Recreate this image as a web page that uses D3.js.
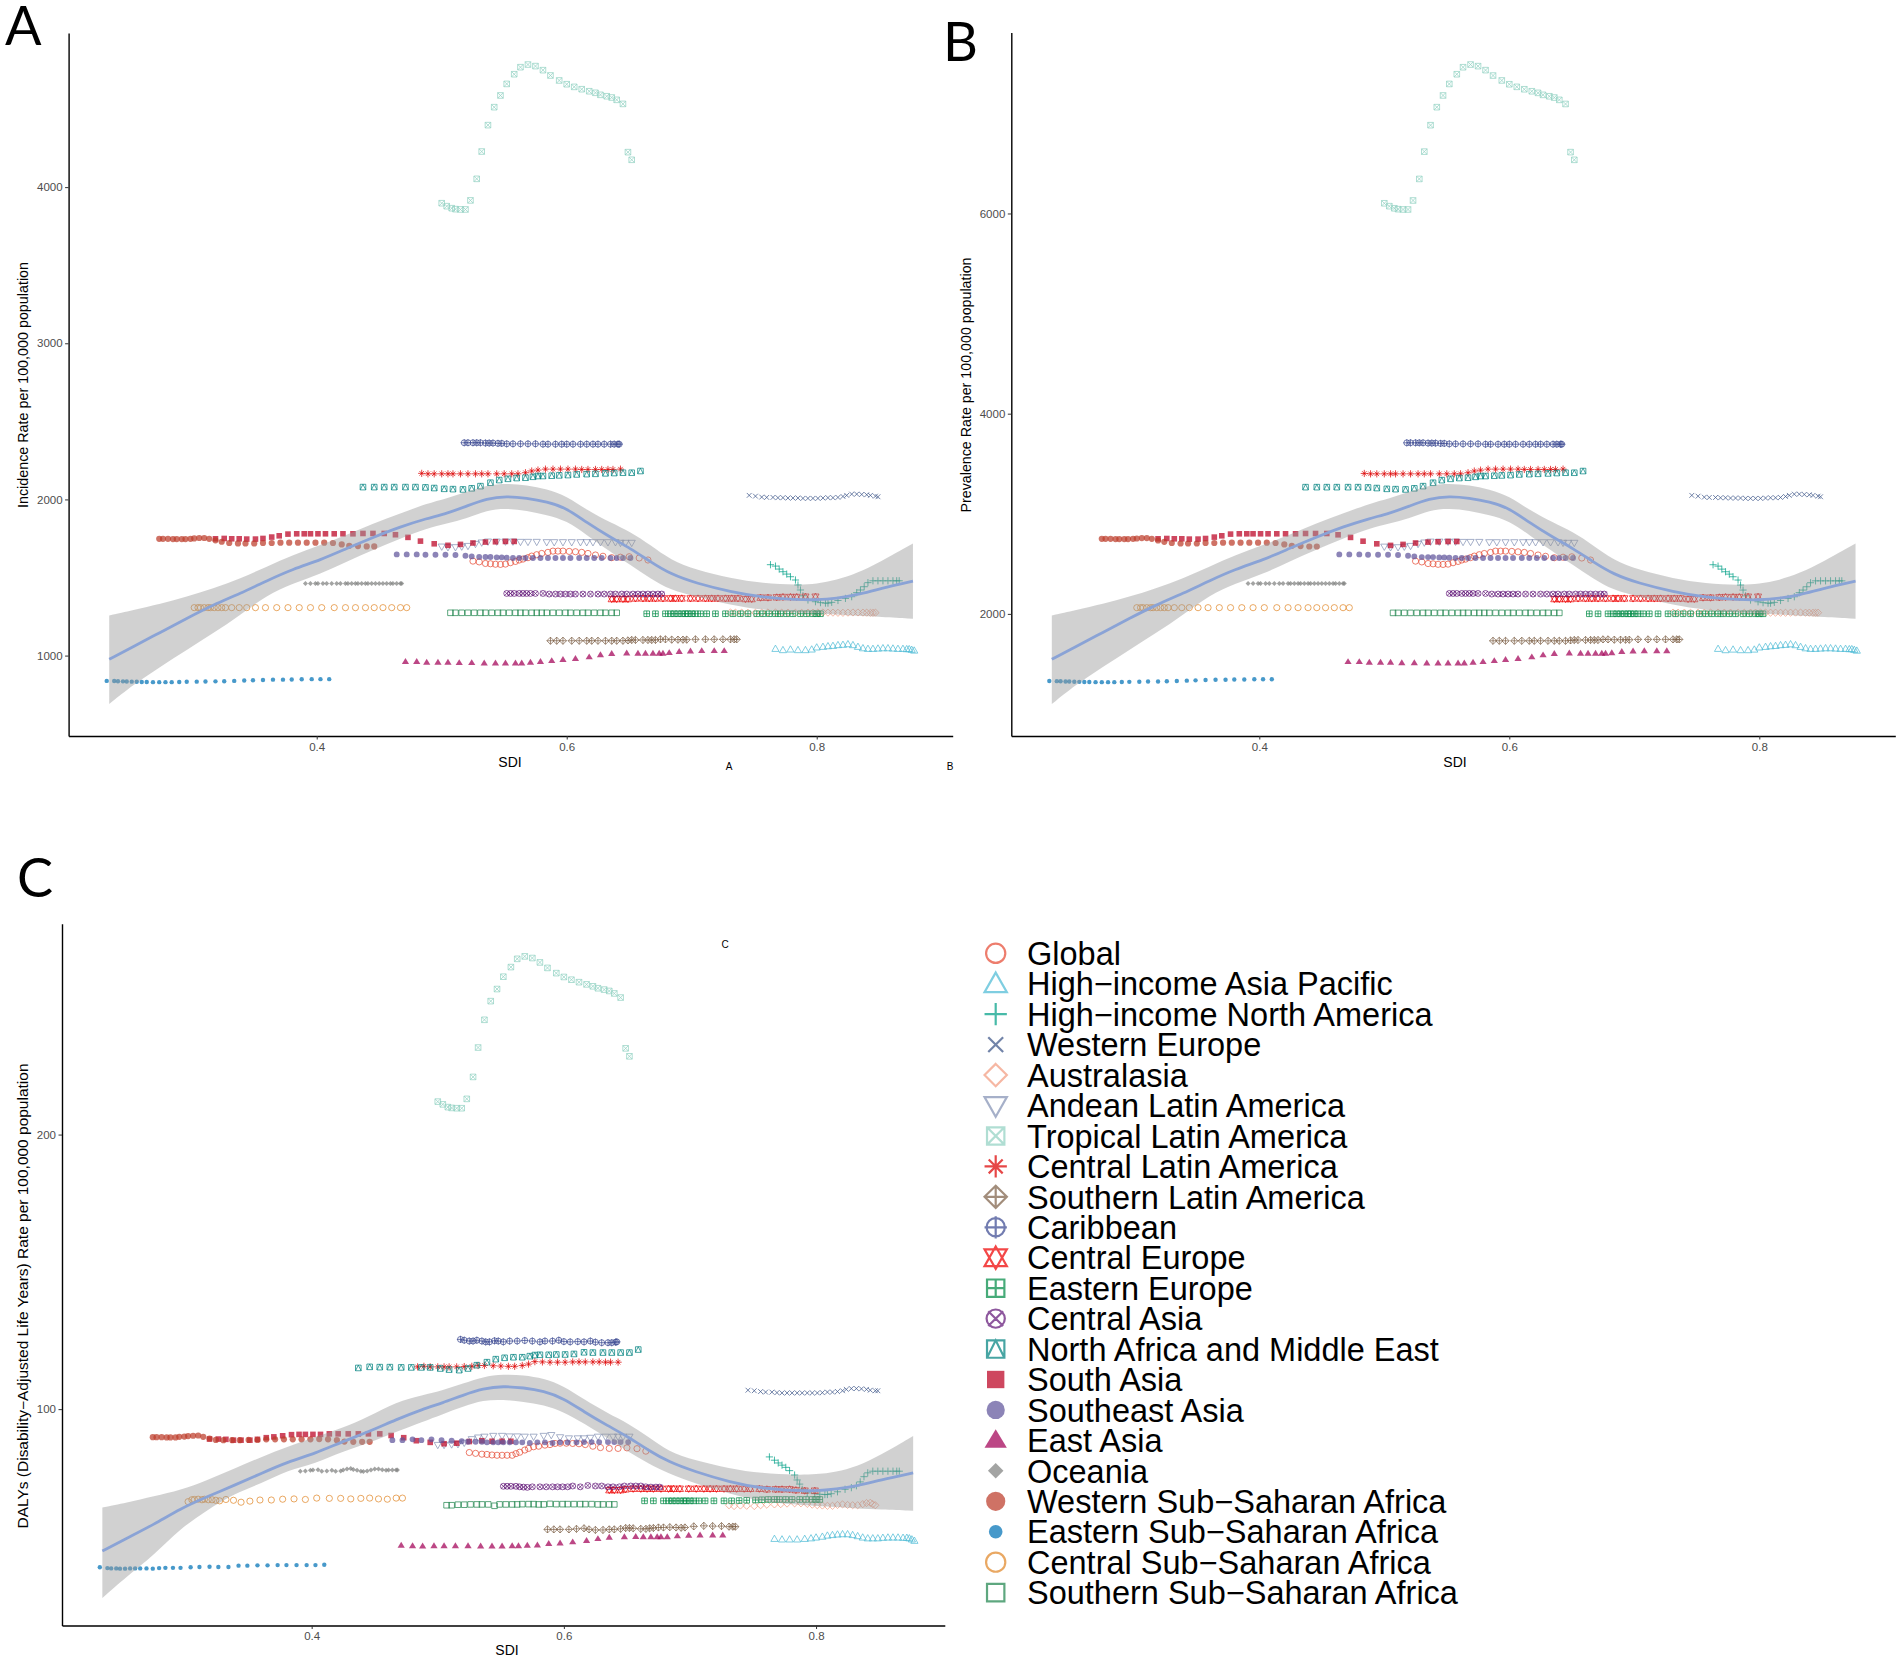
<!DOCTYPE html>
<html><head><meta charset="utf-8">
<script src="https://cdn.jsdelivr.net/npm/d3@7"></script>
<style>html,body{margin:0;padding:0;background:#fff}svg{display:block}text{font-family:"Liberation Sans",Arial,sans-serif}</style>
</head><body><svg id="c" width="1902" height="1665"></svg>
<script>
const regionNames=["Global","High\u2212income Asia Pacific","High\u2212income North America","Western Europe","Australasia","Andean Latin America","Tropical Latin America","Central Latin America","Southern Latin America","Caribbean","Central Europe","Eastern Europe","Central Asia","North Africa and Middle East","South Asia","Southeast Asia","East Asia","Oceania","Western Sub\u2212Saharan Africa","Eastern Sub\u2212Saharan Africa","Central Sub\u2212Saharan Africa","Southern Sub\u2212Saharan Africa"];
const regionColors=["#E64B35","#4DBBD5","#00A087","#3C5488","#F39B7F","#8491B4","#91D1C2","#DC0000","#7E6148","#3B4992","#EE0000","#008B45","#631879","#008280","#BB0021","#5F559B","#A20056","#808180","#BC3C29","#0072B5","#E18727","#20854E"];

const sdiGlobal=[.525,.530,.535,.539,.543,.547,.551,.555,.559,.562,.565,.569,.572,.576,.580,.585,.589,.593,.597,.602,.607,.612,.617,.623,.629,.636,.643,.650,.658,.665];
const incGlobal=[1605,1600,1590,1588,1585,1584,1586,1595,1603,1612,1618,1627,1637,1646,1654,1661,1669,1669,1669,1667,1665,1661,1654,1644,1636,1627,1630,1633,1625,1612];
const prevGlobal=[2527,2519,2503,2500,2495,2494,2497,2511,2524,2538,2547,2562,2577,2591,2603,2614,2627,2627,2627,2624,2620,2614,2603,2588,2575,2561,2566,2570,2558,2538];
const dalyGlobal=[84.2,83.9,83.6,83.5,83.3,83.2,83.2,83.2,83.2,83.8,84.3,85.1,85.7,86.3,86.5,86.9,87.1,87.5,87.6,87.6,87.5,87.4,87.1,86.5,86.0,85.7,85.7,85.9,85.6,84.7];

const sdiHIAP=[.767,.773,.779,.785,.791,.796,.800,.805,.809,.813,.817,.821,.825,.829,.833,.837,.841,.845,.849,.853,.857,.861,.865,.869,.872,.874,.876,.878];
const incHIAP=[1044,1036,1040,1036,1036,1040,1053,1057,1061,1063,1068,1070,1074,1068,1057,1048,1044,1044,1046,1048,1048,1046,1044,1044,1042,1042,1038,1033];
const prevHIAP=[1652,1639,1645,1639,1639,1645,1666,1672,1678,1681,1689,1692,1698,1689,1672,1658,1652,1652,1655,1658,1658,1655,1652,1652,1649,1649,1642,1634];
const dalyHIAP=[52.8,52.6,52.6,52.6,52.8,53.0,53.3,53.6,54.0,54.2,54.4,54.5,54.5,54.2,53.8,53.3,53.0,53.0,53.0,53.2,53.3,53.3,53.3,53.2,53.2,53.0,52.6,52.1];

const sdiHINA=[.763,.767,.770,.773,.776,.779,.783,.785,.787,.789,.793,.799,.803,.807,.809,.812,.817,.823,.828,.832,.835,.838,.841,.845,.849,.853,.857,.861,.864,.866];
const incHINA=[1582,1573,1554,1537,1522,1505,1484,1452,1420,1383,1356,1345,1339,1336,1336,1341,1353,1366,1377,1403,1420,1441,1467,1479,1479,1479,1479,1479,1479,1479];
const prevHINA=[2491,2477,2447,2421,2397,2371,2338,2288,2238,2180,2138,2121,2112,2107,2107,2115,2134,2154,2171,2212,2238,2271,2311,2330,2330,2330,2330,2330,2330,2330];
const dalyHINA=[82.6,81.4,80.4,79.6,78.8,77.6,76.0,74.2,72.7,70.8,69.5,69.2,69.0,68.9,68.9,69.2,69.9,70.8,71.4,72.1,73.5,75.4,76.8,77.4,77.4,77.4,77.4,77.4,77.4,77.4];

const sdiWEur=[.746,.751,.756,.760,.765,.769,.773,.777,.781,.785,.789,.793,.797,.801,.805,.809,.813,.817,.821,.824,.828,.832,.836,.840,.843,.847,.849];
const incWEur=[2026,2021,2015,2013,2013,2011,2011,2009,2009,2009,2007,2007,2007,2007,2009,2011,2011,2013,2019,2026,2034,2034,2032,2030,2026,2021,2017];
const prevWEur=[3184,3176,3166,3163,3163,3160,3160,3157,3157,3157,3154,3154,3154,3154,3157,3160,3160,3163,3173,3184,3196,3196,3193,3190,3184,3176,3170];
const dalyWEur=[106.9,106.7,106.4,106.2,106.2,106.0,105.9,105.9,105.9,105.9,105.9,105.9,105.9,105.9,106.0,106.2,106.2,106.4,106.7,107.2,107.5,107.5,107.4,107.2,106.9,106.7,106.7];

const sdiAustral=[.731,.735,.740,.745,.751,.756,.761,.767,.772,.777,.783,.788,.793,.797,.801,.805,.809,.813,.817,.821,.825,.829,.833,.837,.840,.843,.845,.847];
const incAustral=[1276,1275,1275,1274,1274,1275,1276,1276,1275,1275,1274,1274,1275,1275,1276,1276,1275,1275,1274,1274,1275,1276,1276,1275,1275,1274,1274,1275];
const prevAustral=[2013,2012,2012,2011,2011,2012,2013,2013,2012,2012,2011,2011,2012,2012,2013,2013,2012,2012,2011,2011,2012,2013,2013,2012,2012,2011,2011,2012];
const dalyAustral=[65.0,64.7,64.9,64.8,64.7,65.0,65.2,65.3,65.4,65.6,65.7,65.7,65.5,65.2,65.0,64.9,64.8,64.8,65.1,65.3,65.1,65.0,65.0,65.4,65.8,65.9,65.4,65.0];

const sdiAndean=[.500,.505,.511,.516,.521,.527,.532,.537,.544,.551,.557,.563,.569,.576,.584,.590,.597,.604,.611,.616,.621,.627,.633,.639,.643,.647,.652];
const incAndean=[1697,1693,1693,1697,1701,1714,1723,1729,1729,1729,1729,1727,1727,1727,1725,1725,1725,1725,1725,1725,1725,1725,1725,1725,1721,1721,1721];
const prevAndean=[2670,2664,2664,2670,2677,2697,2711,2720,2720,2720,2720,2717,2717,2717,2714,2714,2714,2714,2714,2714,2714,2714,2714,2714,2708,2708,2708];
const dalyAndean=[86.9,86.9,87.1,87.2,87.7,89.0,89.6,89.9,90.2,90.2,90.0,90.0,89.9,89.9,90.2,90.5,89.7,89.3,89.3,89.3,89.5,89.9,89.9,89.9,89.9,89.9,89.9];

const sdiTropical=[.500,.504,.508,.511,.515,.519,.523,.528,.532,.537,.542,.547,.552,.558,.563,.569,.575,.581,.587,.594,.600,.606,.612,.618,.623,.627,.632,.636,.640,.645,.649,.652];
const incTropical=[3897,3878,3865,3859,3857,3857,3915,4053,4228,4397,4512,4587,4661,4723,4768,4785,4775,4749,4715,4683,4659,4642,4627,4614,4604,4591,4582,4574,4559,4533,4224,4175];
const prevTropical=[6102,6073,6052,6043,6040,6040,6130,6345,6618,6882,7062,7179,7294,7391,7461,7488,7472,7432,7378,7329,7291,7265,7241,7221,7205,7185,7171,7158,7135,7094,6613,6536];
const dalyTropical=[212,211,210,209.7,209.6,209.6,213,221,231.7,241.8,248.6,253,257.5,261,264,264.9,264.3,262.7,260.7,258.8,257.4,256.4,255.5,254.7,254,253.3,252.8,252.3,251.4,249.9,231.4,228.5];

const sdiCLA=[.484,.489,.494,.500,.505,.509,.515,.521,.527,.532,.537,.544,.550,.556,.561,.567,.572,.577,.583,.589,.595,.601,.607,.612,.617,.623,.628,.633,.637,.643];
const incCLA=[2167,2164,2164,2164,2164,2164,2164,2164,2164,2164,2164,2164,2164,2164,2164,2171,2182,2188,2194,2194,2194,2194,2194,2192,2192,2192,2192,2192,2192,2194];
const prevCLA=[3403,3399,3399,3399,3399,3399,3399,3399,3399,3399,3399,3399,3399,3399,3399,3410,3427,3436,3446,3446,3446,3446,3446,3443,3443,3443,3443,3443,3443,3446];
const dalyCLA=[115.4,115.6,115.4,115.4,115.4,115.4,115.4,115.5,115.6,115.9,115.9,115.8,115.7,115.6,115.6,115.9,116.4,117.3,117.2,117.1,117.1,117.1,117.2,117.2,117.2,117.2,117.2,117.1,117.1,117.1];

const sdiSLA=[.587,.592,.597,.604,.610,.616,.620,.625,.631,.636,.640,.645,.649,.652,.655,.661,.665,.668,.671,.675,.679,.684,.689,.693,.696,.703,.711,.718,.725,.731,.734,.736];
const incSLA=[1095,1095,1095,1095,1095,1095,1095,1095,1095,1095,1095,1095,1097,1100,1100,1100,1100,1100,1100,1104,1104,1102,1102,1102,1102,1104,1104,1104,1104,1104,1104,1104];
const prevSLA=[1731,1731,1731,1731,1731,1731,1731,1731,1731,1731,1731,1731,1735,1739,1739,1739,1739,1739,1739,1745,1745,1742,1742,1742,1742,1745,1745,1745,1745,1745,1745,1745];
const dalySLA=[56.2,56.2,56.2,56.2,56.4,56.6,56.2,56.0,56.0,56.2,56.2,56.4,56.7,56.7,56.6,56.4,56.4,56.6,56.7,56.9,56.9,57.0,56.9,56.8,56.9,57.3,57.5,57.4,57.4,57.2,57.2,57.2];

const sdiCarib=[.518,.521,.525,.528,.531,.535,.538,.541,.545,.548,.552,.557,.563,.569,.575,.581,.585,.591,.596,.600,.605,.611,.616,.621,.625,.630,.635,.638,.641,.642];
const incCarib=[2363,2363,2363,2363,2363,2361,2361,2361,2359,2359,2356,2356,2356,2356,2356,2354,2354,2354,2354,2354,2354,2354,2354,2354,2354,2354,2354,2354,2354,2354];
const prevCarib=[3709,3709,3709,3709,3709,3706,3706,3706,3703,3703,3698,3698,3698,3698,3698,3695,3695,3695,3695,3695,3695,3695,3695,3695,3695,3695,3695,3695,3695,3695];
const dalyCarib=[125.4,125.1,124.8,124.8,125.1,124.8,124.5,124.5,124.9,124.8,124.5,124.8,124.8,125,124.8,124.5,124.8,124.8,125.1,124.6,124.5,124.6,124.5,124.8,124.4,124.2,124.2,124.2,124.4,124.5];

const sdiCEur=[.636,.640,.645,.649,.655,.661,.666,.671,.677,.683,.687,.692,.699,.705,.711,.716,.721,.727,.732,.737,.743,.748,.755,.761,.768,.773,.779,.784,.791,.799];
const incCEur=[1362,1362,1362,1362,1366,1366,1366,1366,1366,1366,1366,1366,1366,1366,1366,1366,1366,1366,1366,1366,1362,1362,1371,1371,1373,1375,1375,1375,1377,1377];
const prevCEur=[2148,2148,2148,2148,2154,2154,2154,2154,2154,2154,2154,2154,2154,2154,2154,2154,2154,2154,2154,2154,2148,2148,2162,2162,2165,2168,2168,2168,2171,2171];
const dalyCEur=[70.5,70.5,70.5,70.8,71,71,71,71,71,71,71,71,71,71,71,71,71,71,71,71,71,71,71,70.8,70.8,70.8,70.8,70.5,70.3,70.3];

const sdiEEur=[.664,.671,.679,.683,.686,.689,.692,.695,.697,.700,.703,.707,.712,.719,.727,.733,.739,.745,.752,.757,.762,.767,.771,.776,.781,.787,.792,.797,.800,.803];
const incEEur=[1268,1268,1268,1268,1268,1268,1268,1268,1268,1268,1268,1268,1268,1268,1268,1268,1268,1268,1268,1268,1268,1268,1268,1268,1268,1268,1268,1268,1268,1268];
const prevEEur=[2001,2001,2001,2001,2001,2001,2001,2001,2001,2001,2001,2001,2001,2001,2001,2001,2001,2001,2001,2001,2001,2001,2001,2001,2001,2001,2001,2001,2001,2001];
const dalyEEur=[66.6,66.6,66.6,66.6,66.6,66.6,66.6,66.6,66.6,66.6,66.6,66.6,66.6,66.6,66.6,66.6,66.7,66.8,66.9,67.0,67.1,67.1,67.1,67.1,67.1,67.1,67.1,67.1,67.1,67.1];

const sdiCAsia=[.552,.555,.558,.562,.565,.568,.571,.575,.581,.586,.591,.595,.599,.603,.607,.613,.619,.625,.630,.635,.639,.644,.648,.653,.657,.661,.665,.669,.673,.676];
const incCAsia=[1398,1398,1398,1398,1398,1398,1398,1398,1398,1394,1394,1394,1394,1394,1394,1394,1394,1394,1394,1394,1394,1394,1394,1394,1394,1394,1394,1394,1394,1394];
const prevCAsia=[2204,2204,2204,2204,2204,2204,2204,2204,2204,2198,2198,2198,2198,2198,2198,2198,2198,2198,2198,2198,2198,2198,2198,2198,2198,2198,2198,2198,2198,2198];
const dalyCAsia=[71.9,71.9,71.9,71.9,71.7,71.6,71.5,71.7,71.7,71.7,71.7,71.7,71.7,71.7,72,71.7,72.2,72,72,71.7,71.7,71.7,72,72,72,72,71.7,71.6,71.6,71.6];

const sdiNAME=[.437,.446,.454,.462,.471,.479,.487,.494,.502,.509,.517,.524,.531,.539,.546,.553,.560,.567,.573,.577,.581,.588,.594,.601,.608,.616,.623,.631,.638,.645,.652,.659];
const incNAME=[2079,2079,2079,2079,2079,2079,2077,2073,2068,2066,2064,2071,2085,2107,2124,2132,2137,2139,2145,2150,2150,2152,2154,2156,2160,2162,2164,2167,2169,2171,2171,2182];
const prevNAME=[3266,3266,3266,3266,3266,3266,3263,3257,3249,3246,3243,3254,3276,3310,3336,3349,3357,3360,3369,3377,3377,3380,3383,3386,3393,3396,3399,3403,3407,3410,3410,3427];
const dalyNAME=[115,115.4,115.3,115.3,115.2,115.2,115.2,115.2,114.8,114.4,114.2,114.8,116,117.1,118.2,118.7,118.9,118.9,119.3,119.7,119.8,119.8,119.9,119.9,120.1,120.7,120.6,120.6,120.6,120.6,120.6,121.7];

const sdiSAsia=[.319,.326,.332,.338,.344,.351,.357,.364,.370,.377,.384,.390,.395,.401,.407,.414,.421,.429,.437,.445,.454,.463,.473,.483,.494,.505,.515,.525,.535,.543,.551,.558];
const incSAsia=[1748,1750,1748,1748,1746,1746,1750,1759,1767,1778,1780,1780,1780,1780,1780,1780,1780,1780,1782,1782,1782,1774,1757,1733,1716,1706,1712,1721,1727,1729,1731,1731];
const prevSAsia=[2750,2753,2750,2750,2747,2747,2753,2767,2780,2797,2800,2800,2800,2800,2800,2800,2800,2800,2803,2803,2803,2790,2764,2726,2700,2684,2694,2708,2717,2720,2723,2723];
const dalySAsia=[89.1,89.1,89,88.7,88.7,88.7,89,89.6,89.9,90.3,90.7,90.8,90.8,90.8,90.8,91,91,91,91,91,91,90.4,89.6,88.5,87.9,87.4,87.6,88.2,88.5,88.3,88.3,88.3];

const sdiSEA=[.464,.472,.480,.487,.495,.503,.511,.519,.524,.530,.535,.539,.544,.548,.552,.557,.562,.567,.573,.579,.585,.591,.597,.603,.610,.616,.622,.628,.635,.640,.645,.651];
const incSEA=[1648,1648,1648,1646,1646,1646,1644,1639,1635,1631,1631,1631,1629,1629,1627,1625,1625,1625,1625,1625,1625,1625,1625,1625,1625,1625,1625,1625,1625,1625,1625,1625];
const prevSEA=[2594,2594,2594,2591,2591,2591,2588,2580,2574,2567,2567,2567,2564,2564,2561,2558,2558,2558,2558,2558,2558,2558,2558,2558,2558,2558,2558,2558,2558,2558,2558,2558];
const dalySEA=[88.7,88.7,89,88.7,89,88.7,88.5,88.3,88.1,88.1,88.1,87.9,87.9,87.9,87.9,87.9,87.9,87.9,87.7,87.9,87.9,87.7,87.9,87.9,87.9,88,88,88,88,88,88,88];

const sdiEAsia=[.471,.480,.488,.497,.505,.514,.524,.534,.543,.551,.559,.564,.571,.579,.588,.597,.607,.618,.627,.636,.648,.657,.663,.669,.674,.677,.682,.690,.699,.708,.718,.726];
const incEAsia=[961,961,957,957,957,954,954,952,952,952,952,952,957,961,967,974,980,991,1004,1012,1016,1014,1014,1014,1014,1014,1018,1025,1029,1031,1031,1031];
const prevEAsia=[1522,1522,1516,1516,1516,1511,1511,1508,1508,1508,1508,1508,1516,1522,1532,1542,1552,1569,1589,1602,1608,1605,1605,1605,1605,1605,1611,1622,1628,1631,1631,1631];
const dalyEAsia=[50.4,50.2,50.1,50.2,50.2,50.2,50.2,50.1,50.1,50.1,50.2,50.2,50.4,50.5,51,51.2,51.6,52.1,52.8,53.3,53.5,53.6,53.5,53.5,53.5,53.5,53.5,53.8,54,54.1,54.1,54.1];

const sdiOceania=[.391,.395,.399,.401,.405,.408,.412,.416,.419,.423,.425,.428,.431,.433,.436,.439,.441,.444,.447,.450,.453,.456,.459,.461,.464,.467,.468];
const incOceania=[1462,1462,1462,1462,1462,1462,1462,1462,1462,1462,1462,1462,1462,1462,1462,1462,1462,1462,1462,1462,1462,1462,1462,1462,1462,1462,1462];
const prevOceania=[2304,2304,2304,2304,2304,2304,2304,2304,2304,2304,2304,2304,2304,2304,2304,2304,2304,2304,2304,2304,2304,2304,2304,2304,2304,2304,2304];
const dalyOceania=[77.4,77.5,77.7,77.8,77.9,77.4,77.5,77.7,77.4,77.5,77.8,78.2,78.4,78,77.7,77.4,77.3,77.5,77.8,78.2,78.2,77.9,77.7,77.8,77.8,77.8,77.8];

const sdiWSSA=[.274,.277,.281,.285,.288,.292,.295,.299,.302,.306,.310,.314,.319,.324,.330,.337,.343,.350,.357,.364,.371,.378,.385,.392,.399,.406,.413,.420,.426,.433,.440,.446];
const incWSSA=[1748,1748,1748,1746,1746,1746,1746,1748,1750,1753,1753,1748,1738,1729,1721,1718,1718,1718,1721,1721,1723,1723,1723,1723,1723,1723,1721,1712,1703,1701,1699,1699];
const prevWSSA=[2750,2750,2750,2747,2747,2747,2747,2750,2753,2757,2757,2750,2734,2720,2708,2703,2703,2703,2708,2708,2711,2711,2711,2711,2711,2711,2708,2694,2680,2677,2673,2673];
const dalyWSSA=[89.8,89.8,89.8,89.7,89.7,89.7,89.9,90,90.2,90.3,90.4,89.9,89.3,88.8,88.7,88.7,88.7,88.8,88.8,89,89,89,89,89,89,89.1,89,88.7,88.2,88.1,88.1,88.1];

const sdiESSA=[.232,.238,.241,.245,.248,.252,.256,.260,.264,.269,.274,.279,.284,.290,.296,.304,.311,.319,.326,.334,.342,.349,.357,.365,.373,.380,.388,.396,.403,.410];
const incESSA=[838,837,836,835,834,833,832,831,831,830,830,830,830,831,832,833,834,835,836,838,840,842,844,846,846,847,848,849,849,849];
const prevESSA=[1330,1328,1327,1325,1324,1322,1321,1319,1319,1318,1318,1318,1318,1319,1321,1322,1324,1325,1327,1330,1333,1336,1339,1342,1342,1344,1345,1347,1347,1347];
const dalyESSA=[42.4,42.1,42,42,41.9,41.9,42,42,42,42,41.9,42.1,42.2,42.2,42.2,42.4,42.5,42.6,42.5,42.5,43,43,43.1,43.1,43.2,43.2,43.2,43.2,43.2,43.3];

const sdiCSSA=[.302,.305,.307,.310,.313,.315,.318,.321,.324,.327,.332,.338,.344,.351,.359,.368,.377,.386,.395,.404,.414,.423,.431,.439,.446,.453,.460,.467,.472];
const incCSSA=[1307,1307,1307,1307,1307,1307,1307,1307,1307,1307,1307,1307,1307,1307,1307,1307,1307,1307,1307,1307,1307,1307,1307,1307,1307,1307,1307,1307,1307];
const prevCSSA=[2062,2062,2062,2062,2062,2062,2062,2062,2062,2062,2062,2062,2062,2062,2062,2062,2062,2062,2062,2062,2062,2062,2062,2062,2062,2062,2062,2062,2062];
const dalyCSSA=[66.3,67,67.1,67.2,67,67.2,67,67,66.8,66.6,67.1,66.8,66.1,66.5,66.9,66.9,67.2,67.3,67.1,67.6,67.5,67.5,67.3,67.5,67.6,67.3,67.2,67.6,67.6];

const sdiSSSA=[.507,.511,.516,.521,.526,.531,.535,.540,.545,.549,.554,.559,.563,.567,.572,.576,.580,.584,.589,.594,.599,.603,.608,.613,.617,.622,.627,.631,.636,.640];
const incSSSA=[1274,1274,1274,1274,1274,1274,1274,1274,1274,1274,1274,1274,1274,1274,1274,1274,1274,1274,1274,1274,1274,1274,1274,1274,1274,1274,1274,1274,1274,1274];
const prevSSSA=[2010,2010,2010,2010,2010,2010,2010,2010,2010,2010,2010,2010,2010,2010,2010,2010,2010,2010,2010,2010,2010,2010,2010,2010,2010,2010,2010,2010,2010,2010];
const dalySSSA=[65,65,65.2,65.2,65.3,65.3,65.3,65.3,64.8,65.3,65.3,65.3,65.3,65.4,65.4,65.4,65.3,65.3,65.5,65.4,65.4,65.4,65.4,65.4,65.4,65.4,65.3,65.3,65.3,65.3];

const sdiSmooth=[.234,.253,.275,.296,.317,.339,.360,.381,.403,.424,.445,.467,.488,.504,.520,.536,.552,.568,.584,.600,.616,.635,.651,.667,.683,.704,.731,.757,.784,.800,.816,.832,.851,.877];
const incFit=[976,1057,1149,1238,1324,1398,1479,1554,1612,1686,1757,1825,1878,1910,1957,2006,2021,2009,1985,1945,1851,1757,1686,1601,1522,1462,1409,1373,1358,1356,1366,1388,1430,1477];
const incHi=[1257,1292,1330,1377,1430,1494,1569,1644,1708,1772,1846,1910,1974,2006,2049,2092,2103,2092,2066,2021,1932,1851,1793,1708,1612,1548,1494,1462,1452,1458,1484,1526,1601,1718];
const incLo=[690,812,929,1036,1142,1260,1388,1462,1522,1601,1676,1750,1814,1846,1878,1932,1943,1928,1900,1864,1772,1665,1580,1494,1419,1377,1324,1292,1274,1270,1264,1255,1249,1236];
const prevFit=[1546,1672,1815,1954,2088,2204,2330,2447,2538,2653,2764,2870,2953,3003,3076,3152,3176,3157,3120,3057,2911,2764,2653,2521,2397,2304,2221,2165,2141,2138,2154,2188,2254,2327];
const prevHi=[1984,2039,2098,2171,2254,2354,2471,2588,2687,2787,2903,3003,3102,3152,3219,3287,3304,3287,3246,3176,3037,2911,2820,2687,2538,2438,2354,2304,2288,2297,2338,2404,2521,2703];
const prevLo=[1099,1290,1472,1639,1805,1989,2188,2304,2397,2521,2638,2753,2853,2903,2953,3037,3054,3031,2987,2931,2787,2620,2488,2354,2237,2171,2088,2039,2010,2004,1995,1981,1971,1951];
const dalyFit=[48.3,52.9,58,63.8,68.1,72.3,76.6,80.8,83.9,88.1,91.7,96.2,100,102.3,105.1,107.5,108.4,107.8,106.6,103.9,99,93.9,89.9,85,80.8,77.2,73.5,71.1,70.3,70.2,70.9,72,74.2,76.8];
const dalyHi=[64.2,65.9,68.3,70.5,74.1,78.4,82.6,86.3,89.9,93,97.2,102.7,105.1,106.9,109.3,111.8,112.7,112.4,111.2,108.4,103.5,98.4,94.8,89.9,84.5,81.4,78.4,76.6,76,76.2,77.2,79,83.2,90.2];
const dalyLo=[31.2,39,46.8,56.6,63.2,69.3,72.9,77.8,80.2,84.5,87.5,91.8,95.4,98.2,100.9,103.3,103.5,102.7,101.5,99,94.8,89.3,84.5,80.2,76.6,72.9,69.3,66.3,65.3,64.7,64.4,63.8,63.5,63];

const sdiBySeries=[sdiGlobal,sdiHIAP,sdiHINA,sdiWEur,sdiAustral,sdiAndean,sdiTropical,sdiCLA,sdiSLA,sdiCarib,sdiCEur,sdiEEur,sdiCAsia,sdiNAME,sdiSAsia,sdiSEA,sdiEAsia,sdiOceania,sdiWSSA,sdiESSA,sdiCSSA,sdiSSSA];
const incBySeries=[incGlobal,incHIAP,incHINA,incWEur,incAustral,incAndean,incTropical,incCLA,incSLA,incCarib,incCEur,incEEur,incCAsia,incNAME,incSAsia,incSEA,incEAsia,incOceania,incWSSA,incESSA,incCSSA,incSSSA];
const prevBySeries=[prevGlobal,prevHIAP,prevHINA,prevWEur,prevAustral,prevAndean,prevTropical,prevCLA,prevSLA,prevCarib,prevCEur,prevEEur,prevCAsia,prevNAME,prevSAsia,prevSEA,prevEAsia,prevOceania,prevWSSA,prevESSA,prevCSSA,prevSSSA];
const dalyBySeries=[dalyGlobal,dalyHIAP,dalyHINA,dalyWEur,dalyAustral,dalyAndean,dalyTropical,dalyCLA,dalySLA,dalyCarib,dalyCEur,dalyEEur,dalyCAsia,dalyNAME,dalySAsia,dalySEA,dalyEAsia,dalyOceania,dalyWSSA,dalyESSA,dalyCSSA,dalySSSA];

const xTicks=[0.4,0.6,0.8];
const incTicks=[1000,2000,3000,4000];
const prevTicks=[2000,4000,6000];
const dalyTicks=[100,200];

const panels=[
 {letter:"A",letterX:5,letterY:45,title:"Incidence Rate per 100,000 population",titleLen:246,titleX:24,titleY:385,values:incBySeries,fit:incFit,hi:incHi,lo:incLo,ticks:incTicks,
  left:68.6,right:952.7,top:33,bottom:736,xDom:[.2015,.9088],yDom:[485,4987],sdiX:510,sdiY:767},
 {letter:"B",letterX:943,letterY:61,title:"Prevalence Rate per 100,000 population",titleLen:255,titleX:967,titleY:385,values:prevBySeries,fit:prevFit,hi:prevHi,lo:prevLo,ticks:prevTicks,
  left:1011.3,right:1895.3,top:32.6,bottom:736,xDom:[.2016,.9088],yDom:[780,7807],sdiX:1455,sdiY:767},
 {letter:"C",letterX:17,letterY:897,title:"DALYs (Disability\u2212Adjusted Life Years) Rate per 100,000 population",titleLen:465,titleX:24,titleY:1296,values:dalyBySeries,fit:dalyFit,hi:dalyHi,lo:dalyLo,ticks:dalyTicks,
  left:62,right:944.8,top:923.7,bottom:1625.5,xDom:[.202,.9021],yDom:[21.2,276.8],sdiX:507,sdiY:1655}
];
const smallLabels=[{t:"A",x:729,y:770},{t:"B",x:950,y:770},{t:"C",x:725,y:948}];

function circle(r){return `M${-r},0A${r},${r} 0 1,0 ${r},0A${r},${r} 0 1,0 ${-r},0Z`;}
function shape(k,u){
 const a=3.1*u,b=3.6*u,c=3.0*u,q=2.8*u;
 const plus=`M${-b},0H${b}M0,${-b}V${b}`;
 const cross=`M${-c*.8},${-c*.8}L${c*.8},${c*.8}M${-c*.8},${c*.8}L${c*.8},${-c*.8}`;
 const dia=`M0,${-b}L${b},0L0,${b}L${-b},0Z`;
 const sq=`M${-q},${-q}H${q}V${q}H${-q}Z`;
 const up=`M0,${-b}L${b},${b*.75}H${-b}Z`, down=`M0,${b}L${b},${-b*.75}H${-b}Z`;
 switch(k){
  case 0:case 20:return{d:circle(a),fill:0};
  case 1:return{d:up,fill:0};
  case 2:return{d:plus,fill:0};
  case 3:return{d:cross,fill:0};
  case 4:return{d:dia,fill:0};
  case 5:return{d:down,fill:0};
  case 6:return{d:sq+`M${-q},${-q}L${q},${q}M${-q},${q}L${q},${-q}`,fill:0};
  case 7:return{d:plus+`M${-c*.75},${-c*.75}L${c*.75},${c*.75}M${-c*.75},${c*.75}L${c*.75},${-c*.75}`,fill:0};
  case 8:return{d:dia+plus,fill:0};
  case 9:return{d:circle(a*.95)+plus,fill:0};
  case 10:return{d:up+down,fill:0};
  case 11:return{d:sq+`M${-q},0H${q}M0,${-q}V${q}`,fill:0};
  case 12:return{d:circle(a*.95)+cross,fill:0};
  case 13:return{d:sq+`M${-q},${q}L0,${-q}L${q},${q}`,fill:0};
  case 14:return{d:sq,fill:1};
  case 15:return{d:circle(a*.95),fill:1};
  case 16:return{d:`M0,${-b}L${b},${b*.65}H${-b}Z`,fill:1};
  case 17:return{d:`M0,${-2.5*u}L${2.5*u},0L0,${2.5*u}L${-2.5*u},0Z`,fill:1};
  case 18:return{d:circle(a),fill:1};
  case 19:return{d:circle(2.2*u),fill:1};
  case 21:return{d:sq,fill:0};
 }
}

const svg=d3.select("#c");
const OP=0.72;
panels.forEach(p=>{
 const x=d3.scaleLinear().domain(p.xDom).range([p.left,p.right]);
 const y=d3.scaleLinear().domain(p.yDom).range([p.bottom,p.top]);
 const g=svg.append("g");
 regionNames.forEach((name,k)=>{
  const xs=sdiBySeries[k],ys=p.values[k];
  const pts=d3.range(Math.min(xs.length,ys.length)).map(i=>({s:xs[i],v:ys[i]}));
  const sh=shape(k,1);
  g.append("g").attr("class","series").attr("data-name",name).selectAll("path").data(pts).join("path")
   .attr("transform",d=>`translate(${x(d.s)},${y(d.v)})`)
   .attr("d",sh.d)
   .attr("fill",sh.fill?regionColors[k]:"none")
   .attr("stroke",sh.fill?"none":regionColors[k])
   .attr("stroke-width",1)
   .attr("opacity",OP);
 });
 const band=sdiSmooth.map((s,i)=>({s,f:p.fit[i],h:p.hi[i],l:p.lo[i]}));
 g.append("path").attr("d",d3.area().x(d=>x(d.s)).y0(d=>y(d.l)).y1(d=>y(d.h)).curve(d3.curveBasis)(band))
  .attr("fill","#999").attr("fill-opacity",0.45);
 g.append("path").attr("d",d3.line().x(d=>x(d.s)).y(d=>y(d.f)).curve(d3.curveBasis)(band))
  .attr("fill","none").attr("stroke","#8aa3d6").attr("stroke-width",2.8);
 const ax=g.append("g").attr("transform",`translate(0,${p.bottom})`).call(d3.axisBottom(x).tickValues(xTicks).tickFormat(d3.format(".1f")).tickSizeInner(3.5).tickSizeOuter(0).tickPadding(3));
 const ay=g.append("g").attr("transform",`translate(${p.left},0)`).call(d3.axisLeft(y).tickValues(p.ticks).tickFormat(d3.format("d")).tickSizeInner(3.5).tickSizeOuter(0).tickPadding(2.5));
 [ax,ay].forEach(a=>{
  a.select(".domain").attr("stroke","#000").attr("stroke-width",1.4);
  a.selectAll(".tick line").attr("stroke","#333").attr("stroke-width",1);
  a.selectAll(".tick text").attr("fill","#4d4d4d").style("font-size","11.5px").style("font-family",'"Liberation Sans",Arial,sans-serif');
 });
 g.append("text").attr("x",p.sdiX).attr("y",p.sdiY).attr("text-anchor","middle").style("font-size","14px").text("SDI");
 g.append("text").attr("transform",`translate(${p.titleX+4},${p.titleY}) rotate(-90)`).attr("text-anchor","middle")
  .attr("textLength",p.titleLen).attr("lengthAdjust","spacingAndGlyphs").style("font-size","14px").text(p.title);
 svg.append("text").attr("x",p.letterX).attr("y",p.letterY).style("font-family","Lato,sans-serif").style("font-size","54px").text(p.letter);
});
smallLabels.forEach(l=>svg.append("text").attr("x",l.x).attr("y",l.y).attr("text-anchor","middle").style("font-size","10px").text(l.t));

const rowY=d3.scaleLinear().domain([0,regionNames.length-1]).range([953.3,1592.6]);
const lg=svg.append("g");
regionNames.forEach((name,k)=>{
 const sh=shape(k,3.1);
 lg.append("path").attr("transform",`translate(995.7,${rowY(k)})`).attr("d",sh.d)
  .attr("fill",sh.fill?regionColors[k]:"none").attr("stroke",sh.fill?"none":regionColors[k]).attr("stroke-width",2.2).attr("opacity",OP);
 lg.append("text").attr("x",1027).attr("y",rowY(k)).attr("dy","0.36em").style("font-size","32.5px").attr("fill","#000").text(name);
});
</script></body></html>
